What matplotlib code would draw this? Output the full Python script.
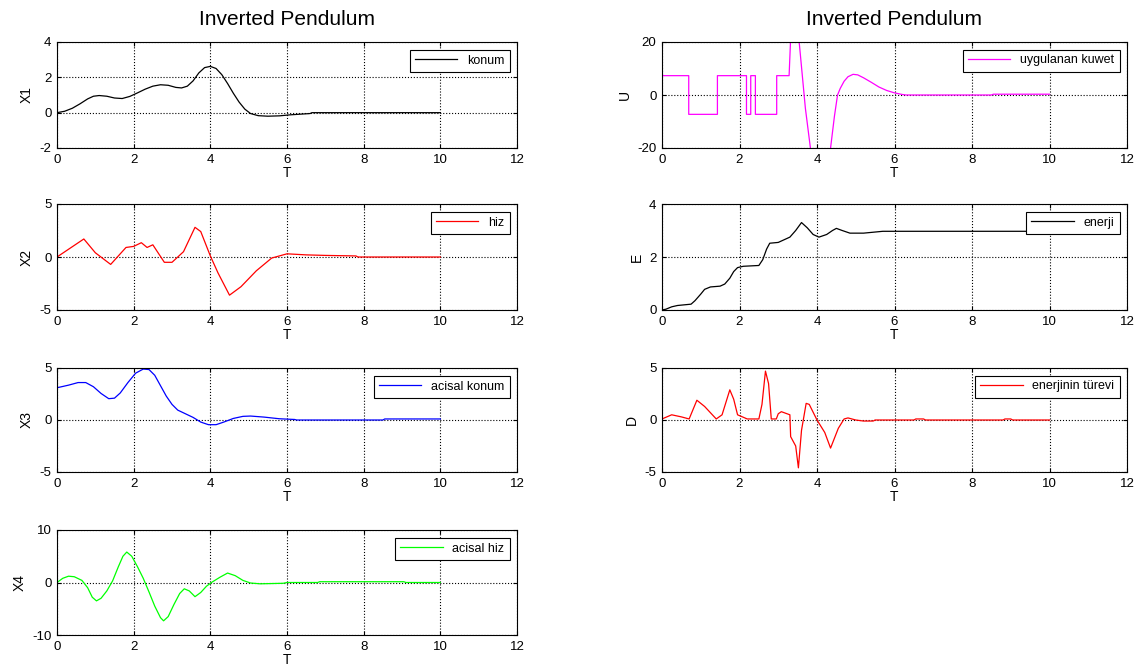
import numpy as np
import matplotlib
matplotlib.use('Agg')
import matplotlib.pyplot as plt

plt.rcParams['font.family'] = ['Liberation Sans', 'DejaVu Sans']
plt.rcParams['axes.unicode_minus'] = False

# konum (X1)
t1 = [0, 0.2, 0.4, 0.6, 0.8, 0.95, 1.1, 1.3, 1.5, 1.7, 1.9, 2.1, 2.3, 2.5, 2.7, 2.9, 3.1, 3.25,
      3.4, 3.55, 3.7, 3.85, 4.0, 4.15, 4.3, 4.45, 4.6, 4.75, 4.9, 5.05, 5.25, 5.5, 5.8, 6.1, 6.6,
      6.65, 10.0]
x1 = [0, 0.08, 0.25, 0.5, 0.78, 0.93, 0.97, 0.93, 0.83, 0.8, 0.92, 1.12, 1.33, 1.5, 1.58, 1.55,
      1.43, 1.4, 1.5, 1.8, 2.25, 2.55, 2.62, 2.5, 2.15, 1.65, 1.1, 0.6, 0.2, -0.05, -0.17, -0.2,
      -0.18, -0.12, -0.05, 0, 0]

# hiz (X2)
t2 = [0, 0.7, 1.0, 1.4, 1.8, 2.0, 2.2, 2.35, 2.5, 2.8, 3.0, 3.3, 3.6, 3.75, 4.0, 4.2, 4.5, 4.8,
      5.2, 5.6, 6.0, 6.5, 7.0, 7.8, 7.85, 10.0]
x2 = [0, 1.7, 0.4, -0.7, 0.9, 1.0, 1.35, 0.9, 1.15, -0.5, -0.5, 0.5, 2.8, 2.4, 0.1, -1.5, -3.6, -2.8,
      -1.3, -0.1, 0.3, 0.2, 0.15, 0.1, 0, 0]

# acisal konum (X3)
t3 = [0, 0.3, 0.55, 0.75, 0.95, 1.15, 1.35, 1.5, 1.65, 1.85, 2.05, 2.25, 2.4, 2.55, 2.7, 2.85,
      3.0, 3.15, 3.35, 3.55, 3.75, 3.95, 4.15, 4.35, 4.6, 4.85, 5.05, 5.4, 5.8, 6.2, 6.25, 8.5,
      8.55, 10.0]
x3 = [3.1, 3.35, 3.6, 3.6, 3.2, 2.55, 2.05, 2.1, 2.6, 3.6, 4.5, 4.9, 4.85, 4.3, 3.3, 2.3,
      1.5, 0.95, 0.6, 0.25, -0.2, -0.45, -0.45, -0.2, 0.15, 0.35, 0.38, 0.28, 0.12, 0.05, 0, 0,
      0.1, 0.1]

# acisal hiz (X4)
t4 = [0, 0.15, 0.3, 0.45, 0.65, 0.8, 0.92, 1.03, 1.15, 1.3, 1.45, 1.6, 1.72, 1.82, 1.95, 2.1,
      2.25, 2.4, 2.55, 2.7, 2.78, 2.9, 3.05, 3.2, 3.32, 3.45, 3.6, 3.75, 3.9, 4.05, 4.25, 4.45,
      4.65, 4.85, 5.05, 5.3, 5.9, 6.0, 6.8, 6.85, 9.05, 9.1, 10.0]
x4 = [0, 0.8, 1.2, 1.1, 0.4, -1.0, -2.8, -3.5, -3.0, -1.6, 0.3, 3.0, 5.0, 5.8, 5.0, 3.0,
      0.8, -1.8, -4.5, -6.7, -7.3, -6.5, -4.2, -2.1, -1.2, -1.6, -2.7, -1.9, -0.7, 0.1, 1.0, 1.8,
      1.3, 0.4, -0.1, -0.25, -0.15, 0, 0, 0.15, 0.15, 0, 0]

# uygulanan kuwet (U)
tu = [0, 0.69, 0.69, 1.43, 1.43, 2.18, 2.18, 2.29, 2.29, 2.41, 2.41, 2.96, 2.96, 3.28, 3.33, 3.45,
      3.54, 3.7, 3.83, 4.1, 4.35, 4.45, 4.53, 4.6, 4.7, 4.8, 4.93, 5.05, 5.2, 5.4, 5.6, 5.8, 6.0,
      6.2, 6.3, 8.5, 8.55, 10.0]
u = [7.3, 7.3, -7.3, -7.3, 7.3, 7.3, -7.3, -7.3, 7.3, 7.3, -7.3, -7.3, 7.3, 7.3, 25, 40,
     20, -5, -20, -40, -20, -8, 0, 2.5, 5.2, 6.9, 7.8, 7.6, 6.5, 4.8, 3.0, 1.7, 0.8,
     0.2, 0, 0, 0.3, 0.3]

# enerji (E)
te = [0, 0.1, 0.25, 0.4, 0.75, 0.85, 1.0, 1.1, 1.25, 1.5, 1.62, 1.75, 1.85, 1.95, 2.1, 2.5, 2.6,
      2.7, 2.78, 3.0, 3.15, 3.3, 3.45, 3.6, 3.75, 3.9, 4.05, 4.25, 4.4, 4.5, 4.65, 4.85, 5.2,
      5.7, 10.0]
e = [0, 0.03, 0.12, 0.17, 0.22, 0.35, 0.6, 0.78, 0.87, 0.9, 0.98, 1.2, 1.45, 1.6, 1.65, 1.68, 1.9,
     2.3, 2.52, 2.55, 2.65, 2.75, 3.0, 3.3, 3.1, 2.85, 2.75, 2.85, 3.0, 3.08, 3.0, 2.9, 2.9,
     2.97, 2.97]

# enerjinin turevi (D)
td = [0, 0.25, 0.5, 0.7, 0.9, 1.1, 1.4, 1.55, 1.75, 1.85, 1.95, 2.2, 2.5, 2.58, 2.67, 2.75, 2.82,
      2.95, 3.0, 3.08, 3.3, 3.32, 3.45, 3.52, 3.6, 3.72, 3.8, 4.0, 4.2, 4.35, 4.55, 4.7, 4.8, 5.0,
      5.2, 5.45, 5.5, 6.5, 6.55, 6.75, 6.8, 8.8, 8.85, 9.0, 9.05, 10.0]
d = [0.1, 0.5, 0.3, 0.1, 1.9, 1.3, 0.1, 0.5, 2.9, 2.0, 0.5, 0.1, 0.1, 1.5, 4.7, 3.5, 0.1,
     0.1, 0.6, 0.8, 0.5, -1.6, -2.5, -4.6, -1.0, 1.6, 1.5, 0, -1.2, -2.7, -0.8, 0.1, 0.2, 0,
     -0.1, -0.1, 0, 0, 0.1, 0.1, 0, 0, 0.1, 0.1, 0, 0]

W, H = 1138, 671
fig = plt.figure(figsize=(W / 100, H / 100), dpi=100)


def make_ax(left, top, right, bottom):
    return fig.add_axes([left / W, 1 - bottom / H, (right - left) / W, (bottom - top) / H])


def style(ax, tt, yy, color, label, ylab, ylim, yticks):
    ax.plot(tt, yy, color=color, lw=0.9, label=label)
    ax.set_xlim(0, 12)
    ax.set_ylim(*ylim)
    ax.set_xticks(range(0, 13, 2))
    ax.set_yticks(yticks)
    ax.grid(True, linestyle=':', color='k', linewidth=0.8)
    ax.tick_params(direction='in', labelsize=9.5, length=3, pad=4, top=True, right=True)
    ax.set_xlabel('T', fontsize=10, labelpad=0)
    ax.set_ylabel(ylab, fontsize=10, labelpad=4)
    leg = ax.legend(loc='upper right', fontsize=9, fancybox=False, framealpha=1,
                    edgecolor='k', handlelength=3.4, borderaxespad=0.6)
    leg.get_frame().set_linewidth(0.8)


L0, L1 = 57, 517
R0, R1 = 662, 1127
rows = [(42, 148), (204, 310), (368, 472), (530, 635)]

ax = make_ax(L0, rows[0][0], L1, rows[0][1])
style(ax, t1, x1, 'k', 'konum', 'X1', (-2, 4), [-2, 0, 2, 4])
ax.set_title('Inverted Pendulum', fontsize=15, pad=12)

ax = make_ax(L0, rows[1][0], L1, rows[1][1])
style(ax, t2, x2, '#ff0000', 'hiz', 'X2', (-5, 5), [-5, 0, 5])

ax = make_ax(L0, rows[2][0], L1, rows[2][1])
style(ax, t3, x3, '#0000ff', 'acisal konum', 'X3', (-5, 5), [-5, 0, 5])

ax = make_ax(L0, rows[3][0], L1, rows[3][1])
style(ax, t4, x4, '#00ff00', 'acisal hiz', 'X4', (-10, 10), [-10, 0, 10])

ax = make_ax(R0, rows[0][0], R1, rows[0][1])
style(ax, tu, u, '#ff00ff', 'uygulanan kuwet', 'U', (-20, 20), [-20, 0, 20])
ax.set_title('Inverted Pendulum', fontsize=15, pad=12)

ax = make_ax(R0, rows[1][0], R1, rows[1][1])
style(ax, te, e, 'k', 'enerji', 'E', (0, 4), [0, 2, 4])

ax = make_ax(R0, rows[2][0], R1, rows[2][1])
style(ax, td, d, '#ff0000', 'enerjinin türevi', 'D', (-5, 5), [-5, 0, 5])

fig.savefig('out.png', dpi=100)
